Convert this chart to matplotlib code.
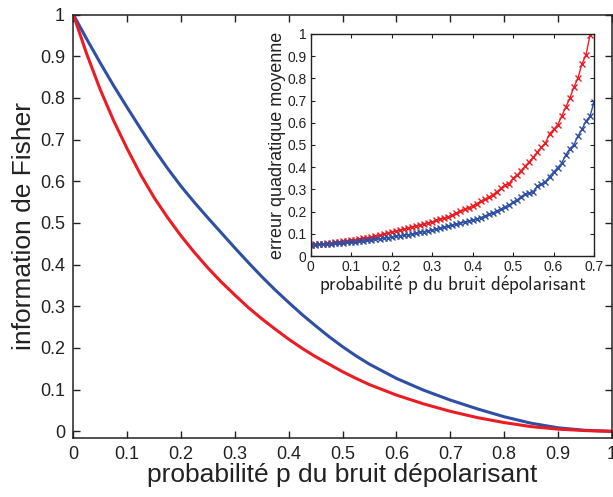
import numpy as np
import matplotlib
matplotlib.use('Agg')
import matplotlib.pyplot as plt

# courbes principales : information de Fisher
p_main = [0, 0.025, 0.05, 0.075, 0.1, 0.125, 0.15, 0.175, 0.2, 0.225, 0.25, 0.275,
          0.3, 0.325, 0.35, 0.375, 0.4, 0.425, 0.45, 0.475, 0.5, 0.525, 0.55,
          0.6, 0.65, 0.7, 0.75, 0.8, 0.85, 0.9, 0.95, 1.0]
fisher_blue = [1.0, 0.941, 0.884, 0.829, 0.777, 0.726, 0.677, 0.631, 0.588, 0.549,
               0.512, 0.476, 0.440, 0.405, 0.371, 0.339, 0.309, 0.280, 0.253, 0.227,
               0.203, 0.181, 0.161, 0.127, 0.099, 0.075, 0.054, 0.035, 0.0195,
               0.0085, 0.0025, 0.0]
fisher_red = [1.0, 0.905, 0.820, 0.745, 0.678, 0.616, 0.561, 0.513, 0.469, 0.429,
              0.392, 0.358, 0.327, 0.297, 0.270, 0.245, 0.221, 0.199, 0.179, 0.161,
              0.143, 0.127, 0.112, 0.087, 0.066, 0.048, 0.033, 0.021, 0.0113,
              0.0053, 0.0018, 0.0]

# encart : erreur quadratique moyenne
p_red = [i / 100 for i in range(70)]
err_red = [0.050, 0.052, 0.054, 0.055, 0.057, 0.059, 0.061, 0.063, 0.066, 0.069,
           0.072, 0.074, 0.077, 0.080, 0.083, 0.086, 0.090, 0.094, 0.099, 0.104,
           0.109, 0.112, 0.116, 0.121, 0.126, 0.130, 0.135, 0.140, 0.145, 0.150,
           0.153, 0.160, 0.166, 0.170, 0.177, 0.185, 0.193, 0.201, 0.210, 0.218,
           0.226, 0.236, 0.246, 0.256, 0.265, 0.276, 0.290, 0.305, 0.320, 0.325,
           0.350, 0.365, 0.385, 0.405, 0.425, 0.445, 0.468, 0.490, 0.510, 0.550,
           0.570, 0.590, 0.630, 0.670, 0.710, 0.760, 0.800, 0.865, 0.905, 0.995]
p_blue = [i / 100 for i in range(71)]
err_blue = [0.050, 0.051, 0.052, 0.053, 0.054, 0.055, 0.057, 0.058, 0.060, 0.061,
            0.063, 0.065, 0.067, 0.069, 0.071, 0.073, 0.075, 0.077, 0.080, 0.083,
            0.086, 0.089, 0.092, 0.094, 0.096, 0.098, 0.102, 0.106, 0.110, 0.114,
            0.117, 0.121, 0.125, 0.130, 0.135, 0.139, 0.143, 0.147, 0.152, 0.157,
            0.162, 0.167, 0.173, 0.180, 0.187, 0.194, 0.203, 0.212, 0.222, 0.230,
            0.242, 0.252, 0.268, 0.278, 0.282, 0.290, 0.315, 0.325, 0.335, 0.358,
            0.378, 0.398, 0.418, 0.455, 0.483, 0.500, 0.540, 0.570, 0.608, 0.630,
            0.695]

main_ticks = [0, 0.1, 0.2, 0.3, 0.4, 0.5, 0.6, 0.7, 0.8, 0.9, 1]
main_labels = ['0', '0.1', '0.2', '0.3', '0.4', '0.5', '0.6', '0.7', '0.8', '0.9', '1']
inset_xticks = [0, 0.1, 0.2, 0.3, 0.4, 0.5, 0.6, 0.7]
inset_xlabels = ['0', '0.1', '0.2', '0.3', '0.4', '0.5', '0.6', '0.7']

RED = '#ec1c24'
BLUE = '#2e4fa3'
INK = '#222222'

plt.rcParams['font.family'] = ['Liberation Sans', 'DejaVu Sans']
plt.rcParams['mathtext.fontset'] = 'cm'

fig = plt.figure(figsize=(6.13, 4.97), dpi=100)
ax = fig.add_axes([0.1196, 0.1187, 0.8786, 0.852])
ax.plot(p_main, fisher_blue, color=BLUE, lw=2.2, solid_joinstyle='round')
ax.plot(p_main, fisher_red, color=RED, lw=2.2, solid_joinstyle='round')
ax.set_xlim(0, 1)
ax.set_ylim(-0.016, 1)
ax.set_xticks(main_ticks)
ax.set_xticklabels(main_labels)
ax.set_yticks(main_ticks)
ax.set_yticklabels(main_labels)
ax.tick_params(direction='in', top=True, right=True, length=5, width=1,
               labelsize=13, pad=6, colors=INK)
for s in ax.spines.values():
    s.set_linewidth(1.1)
    s.set_color(INK)
ax.set_xlabel('probabilité p du bruit dépolarisant', fontsize=19, labelpad=0, color=INK)
ax.set_ylabel('information de Fisher', fontsize=19, labelpad=3, color=INK)

# encart
ins = fig.add_axes([0.5069, 0.4849, 0.4622, 0.4467])
ins.plot(p_red, err_red, color=RED, lw=1.0, marker='x', ms=4.5, mew=1.0)
ins.plot(p_blue, err_blue, color=BLUE, lw=1.0, marker='x', ms=4.5, mew=1.0)
ins.set_xlim(0, 0.7)
ins.set_ylim(0, 1)
ins.set_xticks(inset_xticks)
ins.set_xticklabels(inset_xlabels)
ins.set_yticks(main_ticks)
ins.set_yticklabels(main_labels)
ins.tick_params(direction='in', top=True, right=True, length=3, width=0.8,
                labelsize=10, pad=3, colors=INK)
for s in ins.spines.values():
    s.set_linewidth(1.0)
    s.set_color(INK)
ins.set_xlabel(r'$\mathsf{probabilit\acute{e}\ p\ du\ bruit\ d\acute{e}polarisant}$',
               fontsize=13.6, labelpad=0, color=INK)
ins.set_ylabel('erreur quadratique moyenne', fontsize=13, labelpad=1, color=INK)

fig.savefig('out.png', dpi=100)
